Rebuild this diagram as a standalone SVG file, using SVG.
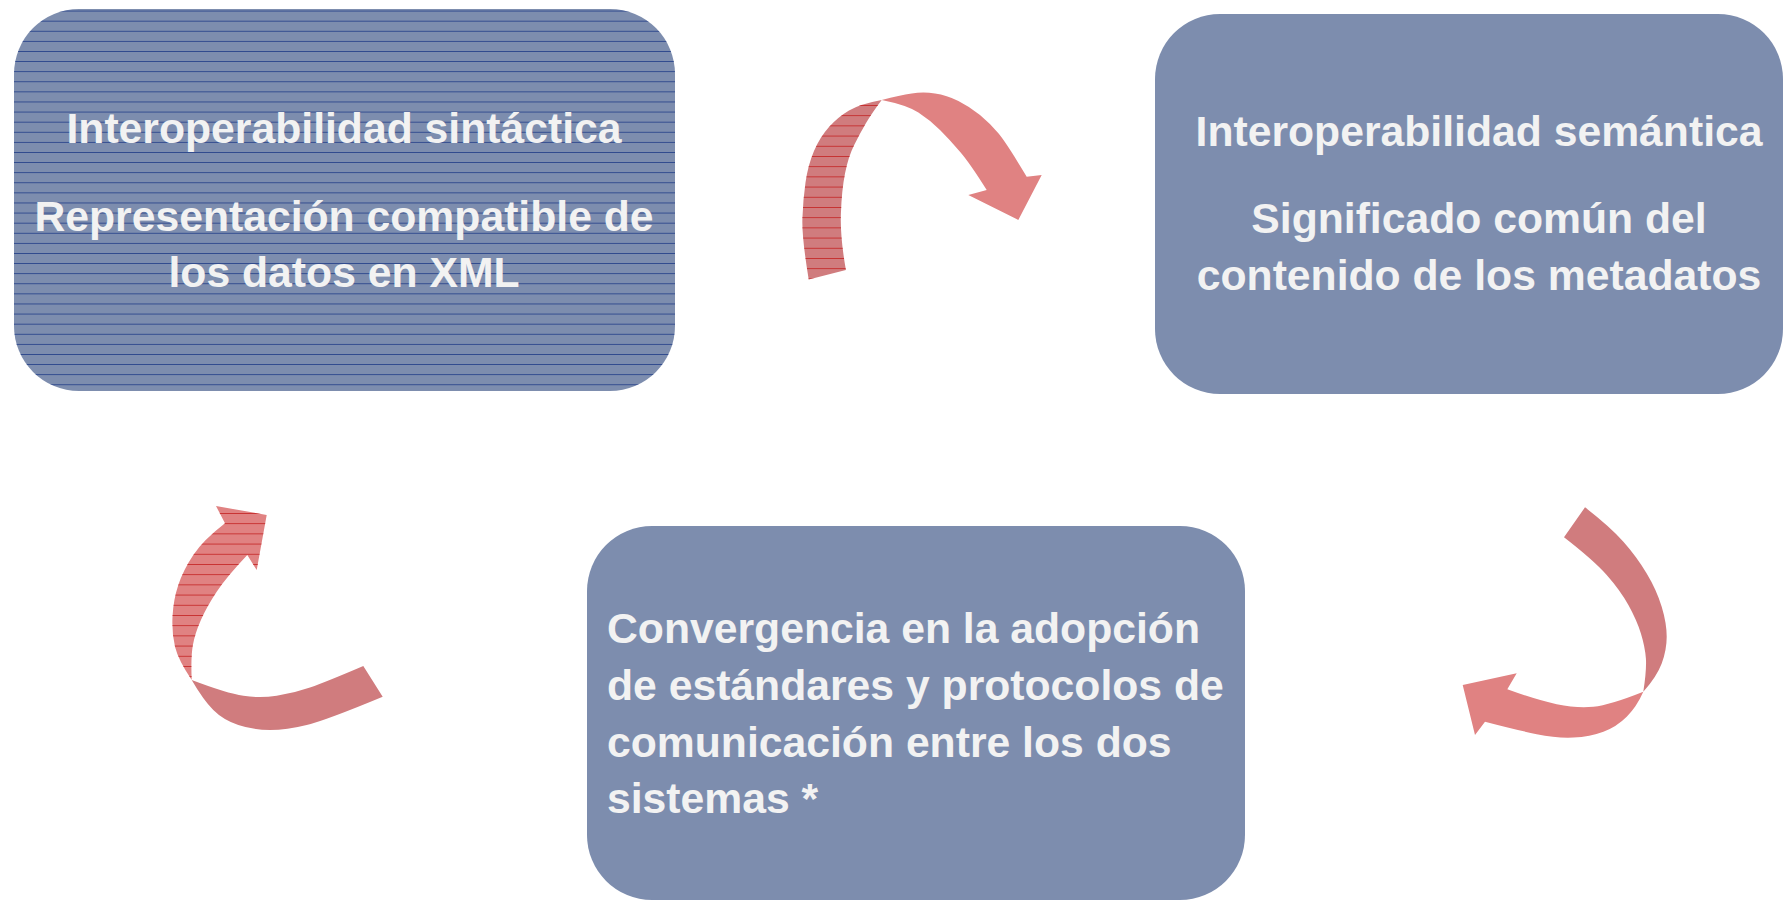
<svg xmlns="http://www.w3.org/2000/svg" width="1785" height="902" viewBox="0 0 1785 902">
<style>
.box{fill:#7d8dae;}
.txt{font-family:"Liberation Sans",Arial,sans-serif;font-weight:bold;font-size:42.7px;fill:#f2f2f2;}
.mid{text-anchor:middle;}
.ar-light{fill:#e08282;}
.ar-dark{fill:#d07c7e;}
.ar-stripe{fill:url(#stripeRed);}
</style>
<defs>
<pattern id="stripeNavy" patternUnits="userSpaceOnUse" x="0" y="0.5" width="20" height="10.1">
<line x1="0" y1="0" x2="20" y2="0" stroke="#27428a" stroke-width="1.7"/>
</pattern>
<pattern id="stripeRed" patternUnits="userSpaceOnUse" x="0" y="3" width="20" height="10.2">
<line x1="0" y1="0" x2="20" y2="0" stroke="#c42323" stroke-width="1.6"/>
</pattern>
</defs>
<rect width="1785" height="902" fill="#ffffff"/>

<g id="connectors">
<g id="arrow-top">
<path class="ar-dark" d="M808.7,279.5 Q801.7,236.7 802.4,218.4 Q803,200 805.5,182.5 Q808,165 814,151 Q820,137 829,127 Q838,117 849,110.5 Q860,104 881.7,100 Q871.7,113.3 865.9,123.3 Q860,133.3 854.2,145 Q848.3,156.7 845,173.4 Q841.7,190 840.9,213.4 Q840,236.7 845.9,270 Z"/>
<path class="ar-stripe" d="M808.7,279.5 Q801.7,236.7 802.4,218.4 Q803,200 805.5,182.5 Q808,165 814,151 Q820,137 829,127 Q838,117 849,110.5 Q860,104 881.7,100 Q871.7,113.3 865.9,123.3 Q860,133.3 854.2,145 Q848.3,156.7 845,173.4 Q841.7,190 840.9,213.4 Q840,236.7 845.9,270 Z"/>
<path class="ar-light" d="M881.7,100 Q900,95 911.7,93.4 Q923.3,91.7 935,93.4 Q946.7,95 958.4,100.9 Q970,106.7 980,115 Q990,123.3 998.4,133.3 Q1006.7,143.3 1026.7,176.7 L1041.7,175 L1018.3,220 L968.3,195 L986.7,190 Q970,163.3 960,151.7 Q950,140 940,130 Q930,120 918.4,112.5 Q906.7,105 881.7,100 Z"/>
</g>
<g id="arrow-right">
<path class="ar-dark" d="M1585,507.3 Q1610,526.7 1623.4,541.7 Q1636.7,556.7 1646.7,573.4 Q1656.7,590 1661.7,606.7 Q1666.7,623.3 1666.7,636.7 Q1666.7,650 1661.7,663.4 Q1656.7,676.7 1643.3,691.7 Q1646.7,670 1645.9,658.4 Q1645,646.7 1640.9,633.4 Q1636.7,620 1628.4,605 Q1620,590 1606.7,575 Q1593.3,560 1564,537.3 Z"/>
<path class="ar-light" d="M1643.3,691.7 Q1636.7,706.7 1626.7,716.7 Q1616.7,726.7 1603.4,731.7 Q1590,736.7 1573.4,737.5 Q1556.7,738.3 1536.7,734.2 Q1516.7,730 1485,721.7 L1475,735 L1462.7,685 L1516.7,673.3 L1507.3,689.3 Q1536.7,700 1556.7,704.2 Q1576.7,708.3 1593.4,706.7 Q1610,705 1643.3,691.7 Z"/>
</g>
<g id="arrow-left">
<path class="ar-light" d="M225,523.3 L216,506 L266.7,515 L256.7,570 L247.3,555 Q226.7,576.7 216.7,591.7 Q206.7,606.7 200.9,620 Q195,633.3 192.9,645 Q190.7,656.7 191.7,680 Q178.3,660 175,646.7 Q171.7,633.3 172.5,616.7 Q173.3,600 178.3,585 Q183.3,570 193.3,555 Q203.3,540 225,523.3 Z"/>
<path class="ar-stripe" d="M225,523.3 L216,506 L266.7,515 L256.7,570 L247.3,555 Q226.7,576.7 216.7,591.7 Q206.7,606.7 200.9,620 Q195,633.3 192.9,645 Q190.7,656.7 191.7,680 Q178.3,660 175,646.7 Q171.7,633.3 172.5,616.7 Q173.3,600 178.3,585 Q183.3,570 193.3,555 Q203.3,540 225,523.3 Z"/>
<path class="ar-dark" d="M191.7,680 Q203.3,700 213.3,710 Q223.3,720 238.3,725 Q253.3,730 270,730 Q286.7,730 306.7,725 Q326.7,720 382.7,696.7 L363.3,666 Q326.7,681.7 310,687.5 Q293.3,693.3 276.7,695.8 Q260,698.3 243.4,695.8 Q226.7,693.3 191.7,680 Z"/>
</g>
</g>

<g id="node-sintactica">
<rect class="box" x="14" y="9" width="661" height="382" rx="65" ry="65"/>
<rect x="14" y="9" width="661" height="382" rx="65" ry="65" fill="url(#stripeNavy)"/>
<text class="txt mid" x="344" y="143">Interoperabilidad sintáctica</text>
<text class="txt mid" x="344" y="231">Representación compatible de</text>
<text class="txt mid" x="344" y="287">los datos en XML</text>
</g>

<g id="node-semantica">
<rect class="box" x="1155" y="14" width="628" height="380" rx="65" ry="65"/>
<text class="txt mid" x="1479" y="146">Interoperabilidad semántica</text>
<text class="txt mid" x="1479" y="233">Significado común del</text>
<text class="txt mid" x="1479" y="290">contenido de los metadatos</text>
</g>

<g id="node-convergencia">
<rect class="box" x="587" y="526" width="658" height="374" rx="65" ry="65"/>
<text class="txt" x="607" y="643">Convergencia en la adopción</text>
<text class="txt" x="607" y="700">de estándares y protocolos de</text>
<text class="txt" x="607" y="757">comunicación entre los dos</text>
<text class="txt" x="607" y="813">sistemas *</text>
</g>
</svg>
